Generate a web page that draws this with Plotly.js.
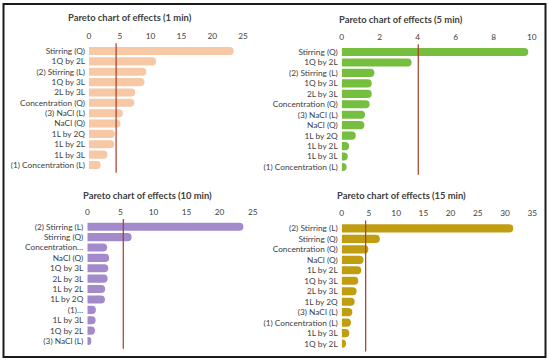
<!DOCTYPE html>
<html>
<head>
<meta charset="utf-8">
<script src="https://cdn.plot.ly/plotly-3.0.1.min.js"></script>
<style>html,body{margin:0;padding:0;background:#fff}#chart{width:550px;height:362px}</style>
</head>
<body>
<div id="chart"></div>
<script>
// ---- Data ----
const titles = [
  "Pareto chart of effects (1 min)",
  "Pareto chart of effects (5 min)",
  "Pareto chart of effects (10 min)",
  "Pareto chart of effects (15 min)"
];
const cats1 = ["Stirring (Q)","1Q by 2L","(2) Stirring (L)","1Q by 3L","2L by 3L","Concentration (Q)","(3) NaCl (L)","NaCl (Q)","1L by 2Q","1L by 2L","1L by 3L","(1) Concentration (L)"];
const vals1 = [23.5,10.9,9.3,9.0,7.5,7.35,5.5,5.1,4.2,4.1,3.0,1.9];
const cats2 = ["Stirring (Q)","1Q by 2L","(2) Stirring (L)","1Q by 3L","2L by 3L","Concentration (Q)","(3) NaCl (L)","NaCl (Q)","1L by 2Q","1L by 2L","1L by 3L","(1) Concentration (L)"];
const vals2 = [9.82,3.68,1.72,1.58,1.58,1.47,1.23,1.19,0.74,0.39,0.32,0.26];
const cats3 = ["(2) Stirring (L)","Stirring (Q)","Concentration…","NaCl (Q)","1Q by 3L","2L by 3L","1L by 2L","1L by 2Q","(1)…","1L by 3L","1Q by 2L","(3) NaCl (L)"];
const vals3 = [23.6,6.7,3.0,3.3,3.17,3.07,2.7,2.67,1.3,1.26,1.16,0.6];
const cats4 = ["(2) Stirring (L)","Stirring (Q)","Concentration (Q)","NaCl (Q)","1L by 2L","1Q by 3L","2L by 3L","1L by 2Q","(3) NaCl (L)","(1) Concentration (L)","1L by 3L","1Q by 2L"];
const vals4 = [31.5,7.0,4.9,4.0,3.6,3.05,2.74,2.38,1.95,1.7,1.4,0.8];
const thresholds = [4.4, 4.03, 5.44, 4.4];
const axisMax = [25, 10, 25, 35];
const tickSteps = [5, 2, 5, 5];

// ---- Styles / layout ----
const W = 550, H = 362;
const colors = ["#F6C8A6", "#76BE3F", "#A38BCB", "#C19D12"];
const FONT = "Lato, Carlito, Calibri, sans-serif";
// pixel geometry: [x0, x1, yTop, yBottom]
const geo = [
  [89, 243, 45.8, 170.2],
  [341.7, 531.7, 46.8, 172.2],
  [87.3, 252.7, 221.5, 346.2],
  [341.7, 532.3, 223.1, 348.9]
];
const titlePos = [[130, 17], [401, 19.5], [147, 196], [401, 196]];

const cats = [cats1, cats2, cats3, cats4];
const vals = [vals1, vals2, vals3, vals4];

const data = [];
const layout = {
  width: W, height: H,
  margin: {l: 0, r: 0, t: 0, b: 0, pad: 0},
  paper_bgcolor: "#fff", plot_bgcolor: "rgba(0,0,0,0)",
  showlegend: false,
  bargap: 0.22,
  font: {family: FONT, color: "#404040", size: 8.3},
  shapes: [], annotations: []
};

for (let i = 0; i < 4; i++) {
  const n = i === 0 ? "" : String(i + 1);
  const g = geo[i];
  data.push({
    type: "bar", orientation: "h",
    x: vals[i], y: cats[i],
    xaxis: "x" + n, yaxis: "y" + n,
    marker: {color: colors[i], cornerradius: 4},
    hoverinfo: "skip"
  });
  layout["xaxis" + n] = {
    domain: [g[0] / W, g[1] / W],
    range: [0, axisMax[i]],
    side: "top",
    anchor: "y" + n,
    dtick: tickSteps[i], tick0: 0,
    showgrid: false, zeroline: false, showline: false,
    ticks: "", ticklabelstandoff: 4,
    tickfont: {family: FONT, size: 8.3, color: "#404040"},
    fixedrange: true
  };
  layout["yaxis" + n] = {
    domain: [1 - g[3] / H, 1 - g[2] / H],
    type: "category",
    categoryorder: "array", categoryarray: cats[i],
    autorange: "reversed",
    anchor: "x" + n,
    showgrid: false, zeroline: false, showline: false,
    ticks: "", ticklabelstandoff: 3,
    tickfont: {family: FONT, size: 8.3, color: "#404040"},
    fixedrange: true
  };
  layout.shapes.push({
    type: "line", xref: "x" + n, yref: "y" + n + " domain",
    x0: thresholds[i], x1: thresholds[i], y0: -0.02, y1: 1.02,
    line: {color: "#A93B26", width: 1.2}
  });
  layout.annotations.push({
    text: "<b>" + titles[i] + "</b>", showarrow: false,
    xref: "paper", yref: "paper",
    x: titlePos[i][0] / W, y: 1 - titlePos[i][1] / H,
    xanchor: "center", yanchor: "middle",
    font: {family: FONT, size: 9.4, color: "#404040"}
  });
}
// outer frame
layout.shapes.push({
  type: "rect", xref: "paper", yref: "paper",
  x0: 3.5 / W, x1: 545.5 / W, y0: 1 - 357 / H, y1: 1 - 4 / H,
  line: {color: "#1a1a1a", width: 2}
});

Plotly.newPlot("chart", data, layout, {staticPlot: true, displayModeBar: false});
</script>
</body>
</html>
